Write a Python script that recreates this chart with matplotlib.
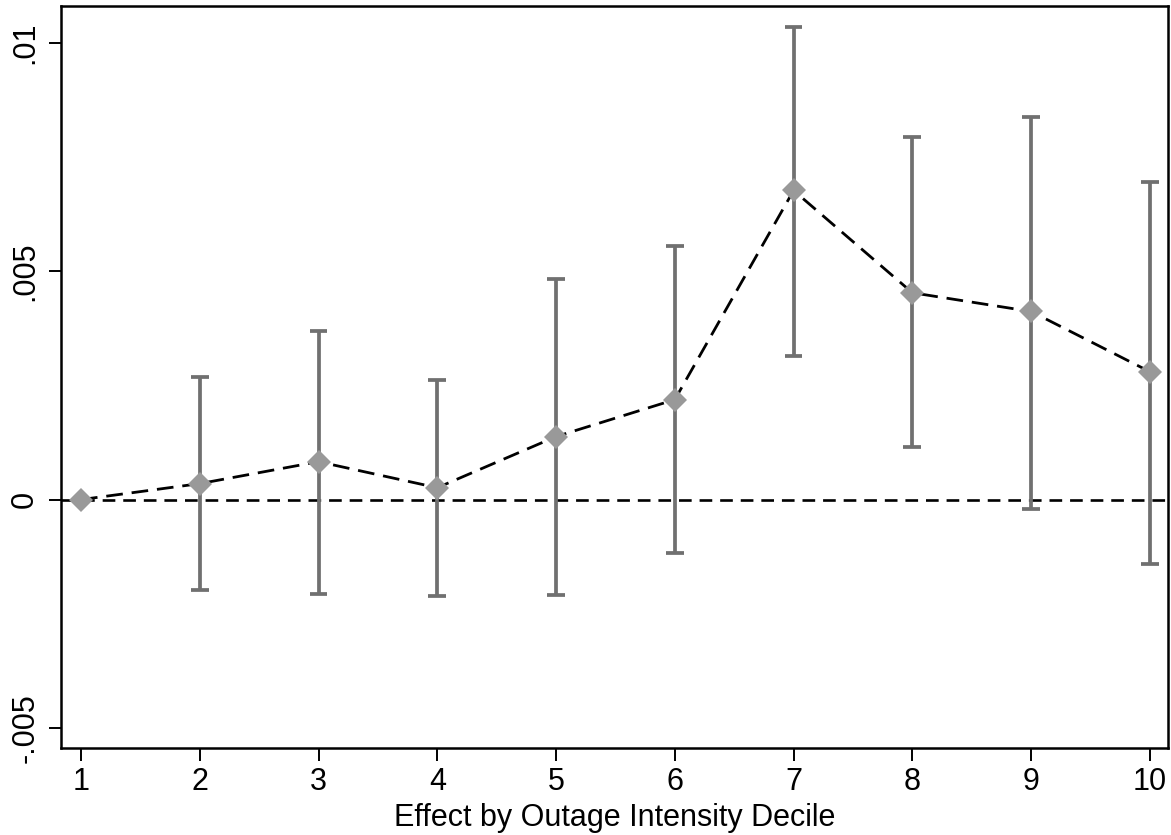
import numpy as np
import matplotlib as mpl
mpl.use('Agg')
import matplotlib.pyplot as plt
import matplotlib.ticker as ticker

######################
## data
######################

decile = [1, 2, 3, 4, 5, 6, 7, 8, 9, 10]
coef = [0.0, 0.00035, 0.00083, 0.00026, 0.00138, 0.00219, 0.00677, 0.00453, 0.00412, 0.00280]
ci_hi = [np.nan, 0.00269, 0.00370, 0.00263, 0.00484, 0.00556, 0.01034, 0.00795, 0.00839, 0.00696]
ci_lo = [np.nan, -0.00199, -0.00206, -0.00212, -0.00210, -0.00116, 0.00315, 0.00116, -0.00020, -0.00140]

ytick_vals = [-0.005, 0, 0.005, 0.01]
ytick_labels = ['-.005', '0', '.005', '.01']

######################
## setup plot
######################

plt.rcParams['font.family'] = ['Liberation Sans', 'DejaVu Sans']

fig = plt.figure(figsize=(11.71, 8.35), dpi=100)
ax = fig.add_axes([0.0521, 0.1042, 0.9453, 0.8886])

# zero reference line
ax.axhline(0, color='black', linewidth=1.9, dashes=(4.8, 3.0), zorder=1)

# confidence intervals
x = np.array(decile, dtype=float)
lo = np.array(ci_lo)
hi = np.array(ci_hi)
has_ci = ~np.isnan(lo)
ax.vlines(x[has_ci], lo[has_ci], hi[has_ci], color='#707070', linewidth=2.7, zorder=2)
ax.hlines(lo[has_ci], x[has_ci] - 0.075, x[has_ci] + 0.075, color='#707070', linewidth=2.7, zorder=2)
ax.hlines(hi[has_ci], x[has_ci] - 0.075, x[has_ci] + 0.075, color='#707070', linewidth=2.7, zorder=2)

# point estimates with dashed connector
ax.plot(decile, coef, color='black', linewidth=2.0, dashes=(6.0, 3.2), zorder=3)
ax.plot(decile, coef, linestyle='none', marker='D', markersize=12.5,
        color='#999999', markeredgewidth=0, zorder=4)

ax.set_xlim(0.832, 10.152)
ax.set_ylim(-0.00544, 0.01081)

ax.set_xticks(decile)
ax.set_xticklabels([str(d) for d in decile])
ax.set_yticks(ytick_vals)
ax.set_yticklabels(ytick_labels, rotation=90, va='center')

ax.tick_params(axis='both', direction='out', length=9, width=1.4, labelsize=22, color='black')
ax.tick_params(axis='x', pad=5)
ax.tick_params(axis='y', pad=6)

for side in ['left', 'right', 'top', 'bottom']:
    ax.spines[side].set_linewidth(1.8)

ax.set_xlabel('Effect by Outage Intensity Decile', fontsize=22, labelpad=4)

plt.savefig('out.png')
